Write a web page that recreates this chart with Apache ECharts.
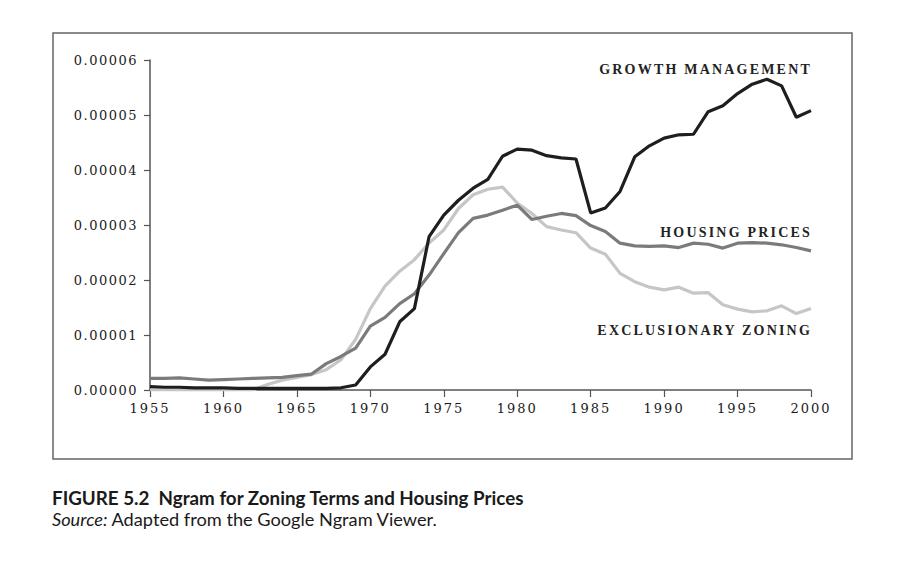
<!DOCTYPE html>
<html>
<head>
<meta charset="utf-8">
<script src="https://cdn.jsdelivr.net/npm/echarts@6/dist/echarts.min.js"></script>
<style>
  html, body { margin: 0; padding: 0; background: #fff; }
  #chart { width: 903px; height: 566px; }
</style>
</head>
<body>
<div id="chart"></div>
<script>
// Years 1955..2000, values in units of 1e-5 (relative frequency)
const years = [1955,1956,1957,1958,1959,1960,1961,1962,1963,1964,1965,1966,1967,1968,1969,1970,1971,1972,1973,1974,1975,1976,1977,1978,1979,1980,1981,1982,1983,1984,1985,1986,1987,1988,1989,1990,1991,1992,1993,1994,1995,1996,1997,1998,1999,2000];
const growthManagement = [0.06,0.05,0.05,0.04,0.04,0.04,0.03,0.03,0.03,0.03,0.03,0.03,0.03,0.04,0.09,0.42,0.65,1.24,1.48,2.79,3.18,3.45,3.67,3.83,4.25,4.38,4.36,4.26,4.22,4.20,3.22,3.31,3.61,4.24,4.44,4.58,4.64,4.65,5.06,5.17,5.39,5.56,5.65,5.53,4.96,5.08];
const housingPrices = [0.21,0.21,0.22,0.20,0.18,0.19,0.20,0.21,0.22,0.23,0.26,0.29,0.48,0.61,0.76,1.16,1.32,1.57,1.75,2.09,2.48,2.86,3.12,3.18,3.27,3.36,3.10,3.16,3.21,3.17,2.99,2.88,2.67,2.62,2.61,2.62,2.59,2.67,2.65,2.58,2.67,2.68,2.67,2.64,2.59,2.53];
const exclusionaryZoning = [0,0,0,0,0,0,0,0,0.10,0.18,0.23,0.28,0.37,0.55,0.92,1.48,1.89,2.16,2.37,2.67,2.91,3.30,3.55,3.65,3.69,3.40,3.21,2.97,2.91,2.86,2.58,2.47,2.12,1.97,1.87,1.82,1.87,1.76,1.77,1.55,1.47,1.42,1.44,1.53,1.39,1.48];
const yTickLabels = ['0.00000','0.00001','0.00002','0.00003','0.00004','0.00005','0.00006'];
const seriesNames = ['GROWTH MANAGEMENT','HOUSING PRICES','EXCLUSIONARY ZONING'];
const captionTitle = 'FIGURE 5.2  Ngram for Zoning Terms and Housing Prices';
const captionSource = 'Adapted from the Google Ngram Viewer.';

function pairs(vals) { return years.map((y, i) => [y, vals[i]]); }

const chart = echarts.init(document.getElementById('chart'), null, { renderer: 'svg' });
const serif = 'DejaVu Serif';
const labelFont = 'Liberation Serif';

const option = {
  animation: false,
  backgroundColor: '#fff',
  grid: { left: 150, right: 92, top: 60, bottom: 176 },
  xAxis: {
    type: 'value', min: 1955, max: 2000, interval: 5,
    axisLine: { show: true, lineStyle: { color: '#555', width: 1.5 } },
    axisTick: { show: true, length: 7, lineStyle: { color: '#555', width: 1.2 } },
    axisLabel: { margin: 12, color: '#1a1a1a', fontFamily: serif, fontSize: 13, formatter: v => String(v) },
    splitLine: { show: false }
  },
  yAxis: {
    type: 'value', min: 0, max: 6, interval: 1,
    axisLine: { show: true, lineStyle: { color: '#555', width: 1.5 } },
    axisTick: { show: true, length: 6, lineStyle: { color: '#555', width: 1.2 } },
    axisLabel: { margin: 12, color: '#1a1a1a', fontFamily: serif, fontSize: 13, formatter: (v) => yTickLabels[Math.round(v)] },
    splitLine: { show: false }
  },
  series: [
    { name: seriesNames[2], type: 'line', data: pairs(exclusionaryZoning), showSymbol: false, lineStyle: { color: '#c6c6c6', width: 3.2 }, z: 2 },
    { name: seriesNames[1], type: 'line', data: pairs(housingPrices), showSymbol: false, lineStyle: { color: '#7b7b7b', width: 3.2 }, z: 3 },
    { name: seriesNames[0], type: 'line', data: pairs(growthManagement), showSymbol: false, lineStyle: { color: '#1e1e1e', width: 3.2 }, z: 4 }
  ],
  graphic: [
    { type: 'rect', shape: { x: 53, y: 33, width: 799, height: 426 }, style: { fill: 'none', stroke: '#666', lineWidth: 1.5 }, silent: true },
    { type: 'text', x: 812, y: 69, style: { text: seriesNames[0], align: 'right', verticalAlign: 'middle', fontFamily: labelFont, fontWeight: 'bold', fontSize: 14, fill: '#222' } },
    { type: 'text', x: 812, y: 232, style: { text: seriesNames[1], align: 'right', verticalAlign: 'middle', fontFamily: labelFont, fontWeight: 'bold', fontSize: 14, fill: '#222' } },
    { type: 'text', x: 812, y: 330, style: { text: seriesNames[2], align: 'right', verticalAlign: 'middle', fontFamily: labelFont, fontWeight: 'bold', fontSize: 14, fill: '#222' } },
    { type: 'text', x: 52, y: 497, style: { text: captionTitle, align: 'left', verticalAlign: 'middle', fontFamily: 'Lato', fontWeight: 'bold', fontSize: 18.8, fill: '#1a1a1a' } },
    { type: 'text', x: 52, y: 519, style: { text: '{i|Source:} ' + captionSource, align: 'left', verticalAlign: 'middle', fontFamily: 'Lato', fontSize: 18.2, fill: '#1a1a1a', rich: { i: { fontStyle: 'italic', fontFamily: 'Lato', fontSize: 18.2, fill: '#1a1a1a' } } } }
  ]
};
chart.setOption(option);

function applySpacing() {
  document.querySelectorAll('#chart text').forEach(t => {
    const s = t.textContent.trim();
    if (seriesNames.includes(s)) t.style.letterSpacing = '2.2px';
    else if (/^0\.0000\d$/.test(s)) t.style.letterSpacing = '1.5px';
    else if (/^\d{4}$/.test(s)) t.style.letterSpacing = '2px';
  });
}
applySpacing();
chart.on('finished', applySpacing);
setTimeout(applySpacing, 50);
</script>
</body>
</html>
